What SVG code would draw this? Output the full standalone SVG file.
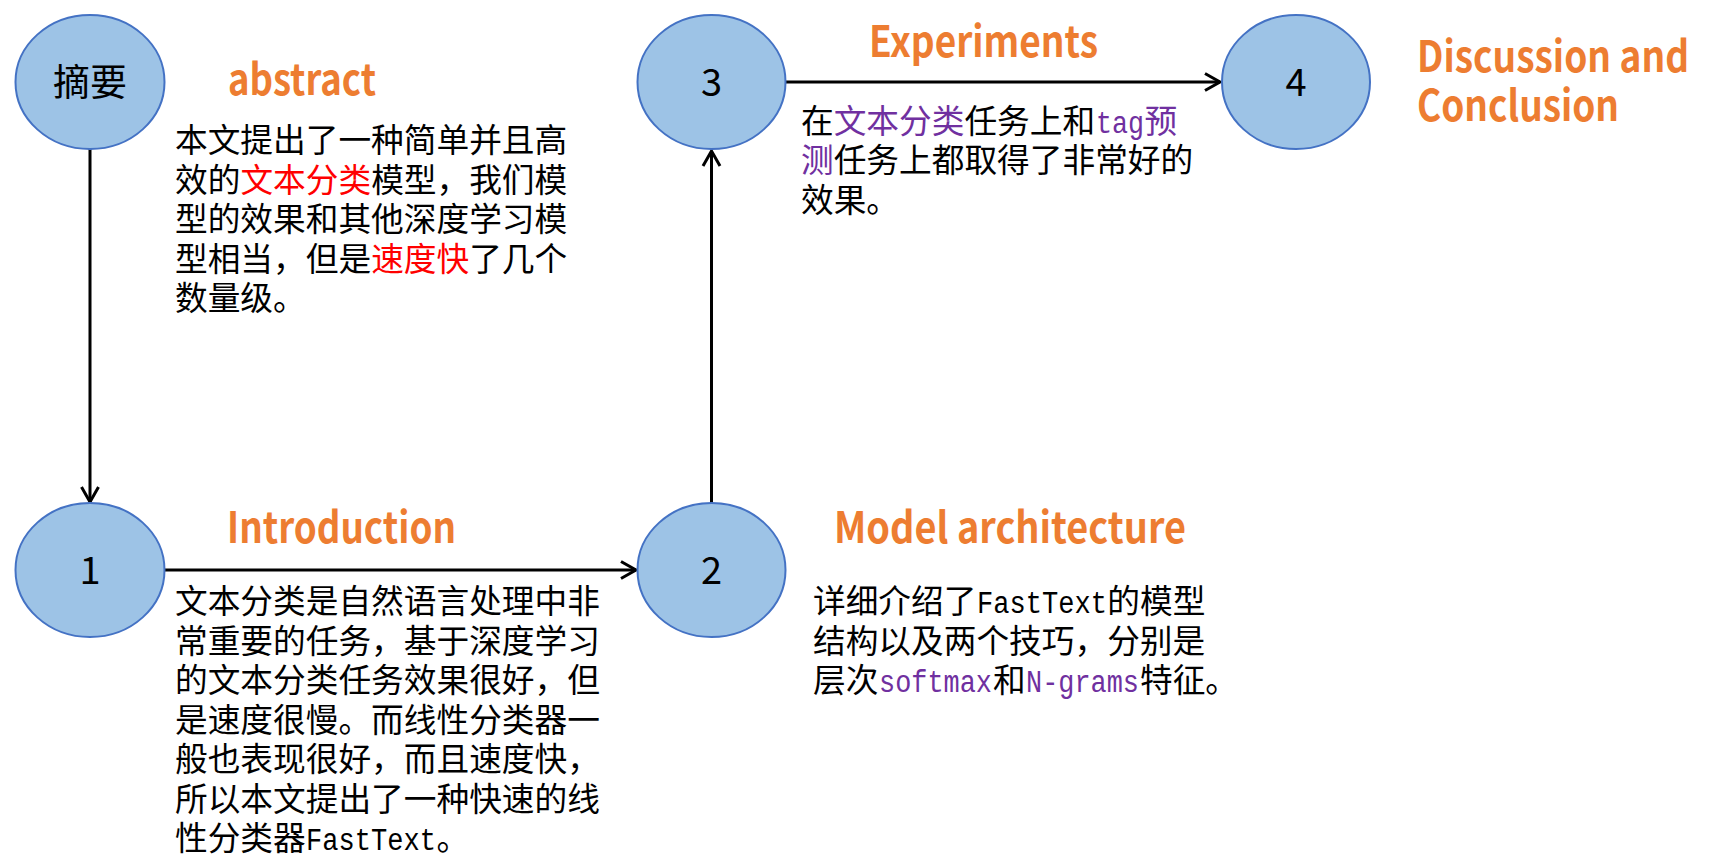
<svg xmlns="http://www.w3.org/2000/svg" width="1710" height="860" viewBox="0 0 1710 860">
<style>
.node{fill:#9DC3E6;stroke:#4472C4;stroke-width:2}
.num{font-family:"Noto Sans CJK SC","Noto Sans",sans-serif;font-size:38px;fill:#000;text-anchor:middle}
.zy{font-size:37px}
.title{font-family:"Noto Sans CJK SC","Noto Sans",sans-serif;font-weight:bold;font-size:43px;fill:#ED7D31}
.body{font-family:"Noto Sans CJK SC",sans-serif;font-size:32.7px;fill:#000}
.lat{font-family:"Liberation Mono",monospace;font-size:31px;fill:#000}
.red{fill:#FF0000}
.pur{fill:#7030A0}
.conn{stroke:#000;stroke-width:3;fill:none}
</style>
<defs>
<marker id="arr" markerUnits="userSpaceOnUse" markerWidth="20" markerHeight="22" viewBox="-2 -2 20 22" refX="15" refY="8.5" orient="auto" overflow="visible">
<path d="M0,0 L15,8.5 L0,17" fill="none" stroke="#000" stroke-width="3"/>
</marker>
</defs>
<rect width="1710" height="860" fill="#fff"/>
<g id="connectors">
<line class="conn" x1="90" y1="149" x2="90" y2="502" marker-end="url(#arr)"/>
<line class="conn" x1="164" y1="570" x2="636" y2="570" marker-end="url(#arr)"/>
<line class="conn" x1="711.5" y1="504" x2="711.5" y2="151" marker-end="url(#arr)"/>
<line class="conn" x1="785.5" y1="82" x2="1220" y2="82" marker-end="url(#arr)"/>
</g>
<g id="node-abstract">
<ellipse class="node" cx="90" cy="82" rx="74.5" ry="67"/>
<text class="num zy" x="90" y="96">摘要</text>
<text class="title" x="228" y="95" textLength="148" lengthAdjust="spacingAndGlyphs">abstract</text>
<text class="body" x="175" y="152">本文提出了一种简单并且高</text>
<text class="body" x="175" y="191.5">效的<tspan class="red">文本分类</tspan>模型，我们模</text>
<text class="body" x="175" y="231">型的效果和其他深度学习模</text>
<text class="body" x="175" y="270.5">型相当，但是<tspan class="red">速度快</tspan>了几个</text>
<text class="body" x="175" y="310">数量级。</text>
</g>
<g id="node-1">
<ellipse class="node" cx="90" cy="570" rx="74.5" ry="67"/>
<text class="num" x="90" y="584">1</text>
<text class="title" x="227" y="543" textLength="229" lengthAdjust="spacingAndGlyphs">Introduction</text>
<text class="body" x="175" y="613">文本分类是自然语言处理中非</text>
<text class="body" x="175" y="652.5">常重要的任务，基于深度学习</text>
<text class="body" x="175" y="692">的文本分类任务效果很好，但</text>
<text class="body" x="175" y="731.5">是速度很慢。而线性分类器一</text>
<text class="body" x="175" y="771">般也表现很好，而且速度快，</text>
<text class="body" x="175" y="810.5">所以本文提出了一种快速的线</text>
<text class="body" x="175" y="850">性分类器</text>
<text class="lat" x="306" y="850" textLength="130" lengthAdjust="spacingAndGlyphs">FastText</text>
<text class="body" x="436.6" y="850">。</text>
</g>
<g id="node-2">
<ellipse class="node" cx="711.5" cy="570" rx="74" ry="67"/>
<text class="num" x="711.5" y="584">2</text>
<text class="title" x="834" y="543" textLength="352" lengthAdjust="spacingAndGlyphs">Model architecture</text>
<text class="body" x="813" y="613">详细介绍了</text>
<text class="lat" x="977" y="613" textLength="130" lengthAdjust="spacingAndGlyphs">FastText</text>
<text class="body" x="1107.3" y="613">的模型</text>
<text class="body" x="813" y="652.5">结构以及两个技巧，分别是</text>
<text class="body" x="813" y="692">层次</text>
<text class="lat pur" x="879" y="692" textLength="113" lengthAdjust="spacingAndGlyphs">softmax</text>
<text class="body" x="992.9" y="692">和</text>
<text class="lat pur" x="1026" y="692" textLength="113" lengthAdjust="spacingAndGlyphs">N-grams</text>
<text class="body" x="1140" y="692">特征。</text>
</g>
<g id="node-3">
<ellipse class="node" cx="711.5" cy="82" rx="74" ry="67"/>
<text class="num" x="711.5" y="96">3</text>
<text class="title" x="869" y="57" textLength="229" lengthAdjust="spacingAndGlyphs">Experiments</text>
<text class="body" x="801" y="133">在<tspan class="pur">文本分类</tspan>任务上和</text>
<text class="lat pur" x="1096" y="133" textLength="48" lengthAdjust="spacingAndGlyphs">tag</text>
<text class="body pur" x="1144.4" y="133">预</text>
<text class="body" x="801" y="172.3"><tspan class="pur">测</tspan>任务上都取得了非常好的</text>
<text class="body" x="801" y="211.6">效果。</text>
</g>
<g id="node-4">
<ellipse class="node" cx="1296" cy="82" rx="74" ry="67"/>
<text class="num" x="1296" y="96">4</text>
<text class="title" x="1417" y="72" textLength="272" lengthAdjust="spacingAndGlyphs">Discussion and</text>
<text class="title" x="1417" y="121" textLength="202" lengthAdjust="spacingAndGlyphs">Conclusion</text>
</g>
</svg>
